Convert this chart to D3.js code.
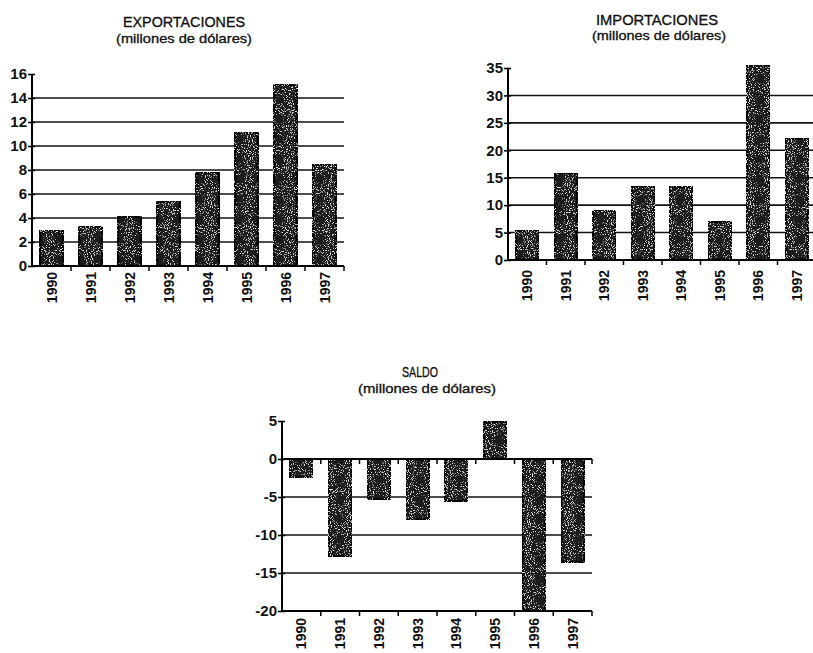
<!DOCTYPE html>
<html><head><meta charset="utf-8">
<script src="https://cdn.jsdelivr.net/npm/d3@7"></script>
<style>
body{margin:0;background:#fff;}
svg{display:block;}
text{font-family:"Liberation Sans",Arial,sans-serif;fill:#111;}
</style></head>
<body>
<svg id="c" width="813" height="653"></svg>
<script>
const years = ["1990","1991","1992","1993","1994","1995","1996","1997"];
const exportaciones = [3.0, 3.3, 4.1, 5.4, 7.8, 11.1, 15.1, 8.5];
const importaciones = [5.4, 15.8, 9.1, 13.4, 13.4, 7.0, 35.5, 22.2];
const saldo = [-2.5, -12.8, -5.3, -8.0, -5.6, 4.9, -20.0, -13.6];
const exportTicks = [0,2,4,6,8,10,12,14,16];
const importTicks = [0,5,10,15,20,25,30,35];
const saldoTicks = [5,0,-5,-10,-15,-20];
const subtitle = "(millones de dólares)";

const svg = d3.select("#c");
const defs = svg.append("defs");
const f = defs.append("filter").attr("id","speckle").attr("x","0").attr("y","0").attr("width","1").attr("height","1");
f.append("feTurbulence").attr("type","fractalNoise").attr("baseFrequency","0.95").attr("numOctaves","1").attr("seed","4").attr("result","noise");
f.append("feColorMatrix").attr("in","noise").attr("type","matrix")
 .attr("values","0 0 0 0 0.75  0 0 0 0 0.75  0 0 0 0 0.75  9 0 0 0 -5.2").attr("result","dots");
f.append("feComposite").attr("in","dots").attr("in2","SourceGraphic").attr("operator","in").attr("result","d2");
const fm = f.append("feMerge");
fm.append("feMergeNode").attr("in","SourceGraphic");
fm.append("feMergeNode").attr("in","d2");

function chart(cfg){
  const g = svg.append("g");
  const x = d3.scaleBand().domain(years).range(cfg.xr).paddingInner(0.4).paddingOuter(0.2);
  const y = d3.scaleLinear().domain(cfg.yd).range(cfg.yr);
  // gridlines
  g.selectAll(".grid").data(cfg.grid).join("line")
   .attr("x1",cfg.xr[0]).attr("x2",cfg.xr[1])
   .attr("y1",d=>y(d)).attr("y2",d=>y(d))
   .attr("stroke","#111").attr("stroke-width",1.6);
  // bars
  g.selectAll(".bar").data(cfg.values).join("rect")
   .attr("x",(d,i)=>x(years[i]))
   .attr("width",x.bandwidth())
   .attr("y",d=>y(Math.max(0,d)))
   .attr("height",d=>Math.abs(y(d)-y(0)))
   .attr("rx",2)
   .attr("fill","#1c1c1c").attr("stroke","#000").attr("stroke-width",2.6)
   .attr("filter","url(#speckle)");
  // x axis lines with ticks at band boundaries
  cfg.xAxisAt.forEach(v=>{
    g.append("line").attr("x1",cfg.xr[0]).attr("x2",cfg.xr[1]).attr("y1",y(v)).attr("y2",y(v))
     .attr("stroke","#000").attr("stroke-width",2);
    const bounds = years.map(yy=>x(yy)-x.step()*0.2).concat([cfg.xr[1]]);
    g.selectAll(null).data(bounds.slice(1)).join("line")
     .attr("x1",d=>d).attr("x2",d=>d).attr("y1",y(v)).attr("y2",y(v)+5)
     .attr("stroke","#000").attr("stroke-width",1.5);
  });
  // y axis
  const ya = d3.axisLeft(y).tickValues(cfg.ticks).tickSize(4).tickFormat(d=>String(d));
  const ag = g.append("g").attr("transform",`translate(${cfg.xr[0]},0)`).call(ya);
  ag.select(".domain").attr("stroke","#000").attr("stroke-width",2).attr("d",`M0,${cfg.yr[1]}V${cfg.yr[0]}`);
  ag.selectAll(".tick line").attr("stroke","#000").attr("stroke-width",1.6).attr("x2",-4).attr("x1",3);
  ag.selectAll(".tick text").attr("x",-5).attr("font-size","15px").attr("font-weight","bold")
    .attr("font-family","'Liberation Sans',Arial,sans-serif").attr("fill","#111");
  // x labels
  g.selectAll(".xl").data(years).join("text")
   .attr("transform",d=>`translate(${x(d)+x.bandwidth()/2+5},${cfg.labelTop}) rotate(-90)`)
   .attr("text-anchor","end").attr("font-size","14px").attr("font-weight","bold")
   .text(d=>d);
  // titles
  g.append("text").attr("x",cfg.title[1]).attr("y",cfg.title[2]).attr("text-anchor","middle")
   .attr("font-size","15px").attr("textLength",cfg.title[3]).attr("lengthAdjust","spacingAndGlyphs")
   .attr("stroke","#111").attr("stroke-width",0.35).text(cfg.title[0]);
  g.append("text").attr("x",cfg.sub[0]).attr("y",cfg.sub[1]).attr("text-anchor","middle")
   .attr("font-size","13.5px").attr("textLength",cfg.sub[2]).attr("lengthAdjust","spacingAndGlyphs")
   .attr("stroke","#111").attr("stroke-width",0.35).text(subtitle);
}

chart({xr:[32,344], yd:[0,16], yr:[266,74], values:exportaciones, ticks:exportTicks,
  grid:[2,4,6,8,10,12,14], xAxisAt:[0], labelTop:272,
  title:["EXPORTACIONES",184,27,122], sub:[184,43,136]});
chart({xr:[508,816], yd:[0,35], yr:[260,68], values:importaciones, ticks:importTicks,
  grid:[5,10,15,20,25,30], xAxisAt:[0], labelTop:270,
  title:["IMPORTACIONES",657,25,122], sub:[659,40,134]});
chart({xr:[282,592], yd:[-20,5], yr:[611,421], values:saldo, ticks:saldoTicks,
  grid:[-5,-10,-15], xAxisAt:[0,-20], labelTop:618,
  title:["SALDO",420,377,36], sub:[427,393,138]});
</script>
</body></html>
